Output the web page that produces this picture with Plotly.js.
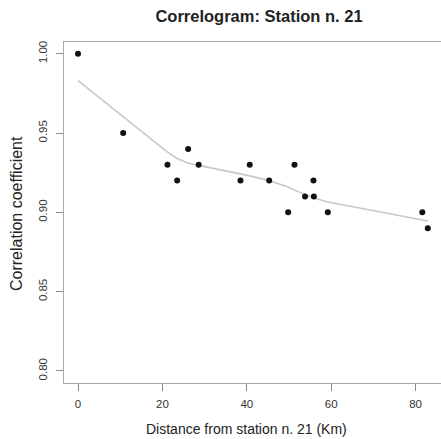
<!DOCTYPE html>
<html>
<head>
<meta charset="utf-8">
<script src="https://cdn.plot.ly/plotly-3.0.1.min.js"></script>
<style>
html,body{margin:0;padding:0;overflow:hidden;background:#fff;width:441px;height:439px;}
#chart{width:446px;height:439px;}
</style>
</head>
<body>
<div id="chart"></div>
<script>
// Observed correlation coefficients vs distance
var distance = [0, 10.7, 21.2, 23.5, 26.1, 28.6, 38.5, 40.7, 45.3, 49.8, 51.3, 53.8, 55.8, 55.9, 59.2, 81.6, 82.9];
var correlation = [1.00, 0.95, 0.93, 0.92, 0.94, 0.93, 0.92, 0.93, 0.92, 0.90, 0.93, 0.91, 0.92, 0.91, 0.90, 0.90, 0.89];
// Smoothed (lowess) curve
var smoothX = [0, 10.7, 21.2, 23.5, 26.1, 28.6, 38.5, 40.7, 45.3, 49.8, 51.3, 53.8, 55.8, 55.9, 59.2, 81.6, 82.9];
var smoothY = [0.983, 0.960, 0.938, 0.934, 0.931, 0.9296, 0.9245, 0.923, 0.920, 0.916, 0.914, 0.911, 0.909, 0.909, 0.9065, 0.895, 0.8945];
var xTicks = [0, 20, 40, 60, 80];
var yTicks = [0.80, 0.85, 0.90, 0.95, 1.00];
var yTickText = ["0.80", "0.85", "0.90", "0.95", "1.00"];

var W = 446, H = 439, L = 64, R = 4, T = 42, B = 56;
var pw = W - L - R, ph = H - T - B;
var FONT = 'Liberation Sans, Arial, sans-serif';

var traces = [
  {x: smoothX, y: smoothY, mode: 'lines', type: 'scatter',
   line: {color: '#c8c8c8', width: 1.6}, hoverinfo: 'skip'},
  {x: distance, y: correlation, mode: 'markers', type: 'scatter',
   marker: {color: '#111', size: 6}}
];

var axisCommon = {
  showgrid: false, zeroline: false, showline: true, mirror: true,
  linecolor: '#a8a8a8', linewidth: 1.2,
  ticks: 'outside', ticklen: 7, tickcolor: '#888', tickwidth: 1,
  tickfont: {family: FONT, size: 11.5, color: '#333'}
};

var layout = {
  width: W, height: H,
  margin: {l: L, r: R, t: T, b: B},
  paper_bgcolor: '#fff', plot_bgcolor: '#fff',
  showlegend: false,
  title: {text: '<b>Correlogram: Station n. 21</b>', x: 259 / W, xanchor: 'center',
          y: 1 - 16 / H, yanchor: 'middle', xref: 'container', yref: 'container',
          font: {family: FONT, size: 16.5, color: '#222'}},
  xaxis: Object.assign({}, axisCommon, {
    range: [-3.32, 86.26], tickvals: xTicks, ticktext: xTicks.map(String),
    ticklabelstandoff: 3
  }),
  yaxis: Object.assign({}, axisCommon, {
    range: [0.7924, 1.0074], tickvals: yTicks, ticktext: yTickText, tickangle: -90,
    ticklabelstandoff: 4
  }),
  annotations: [
    {text: 'Distance from station n. 21 (Km)', xref: 'paper', yref: 'paper',
     x: (246 - L) / pw, y: (T + ph - 429) / ph, xanchor: 'center', yanchor: 'middle',
     showarrow: false, font: {family: FONT, size: 14, color: '#222'}},
    {text: 'Correlation coefficient', xref: 'paper', yref: 'paper', textangle: -90,
     x: (16 - L) / pw, y: (T + ph - 214) / ph, xanchor: 'center', yanchor: 'middle',
     showarrow: false, font: {family: FONT, size: 16, color: '#222'}}
  ]
};

Plotly.newPlot('chart', traces, layout, {displayModeBar: false, staticPlot: true});
</script>
</body>
</html>
